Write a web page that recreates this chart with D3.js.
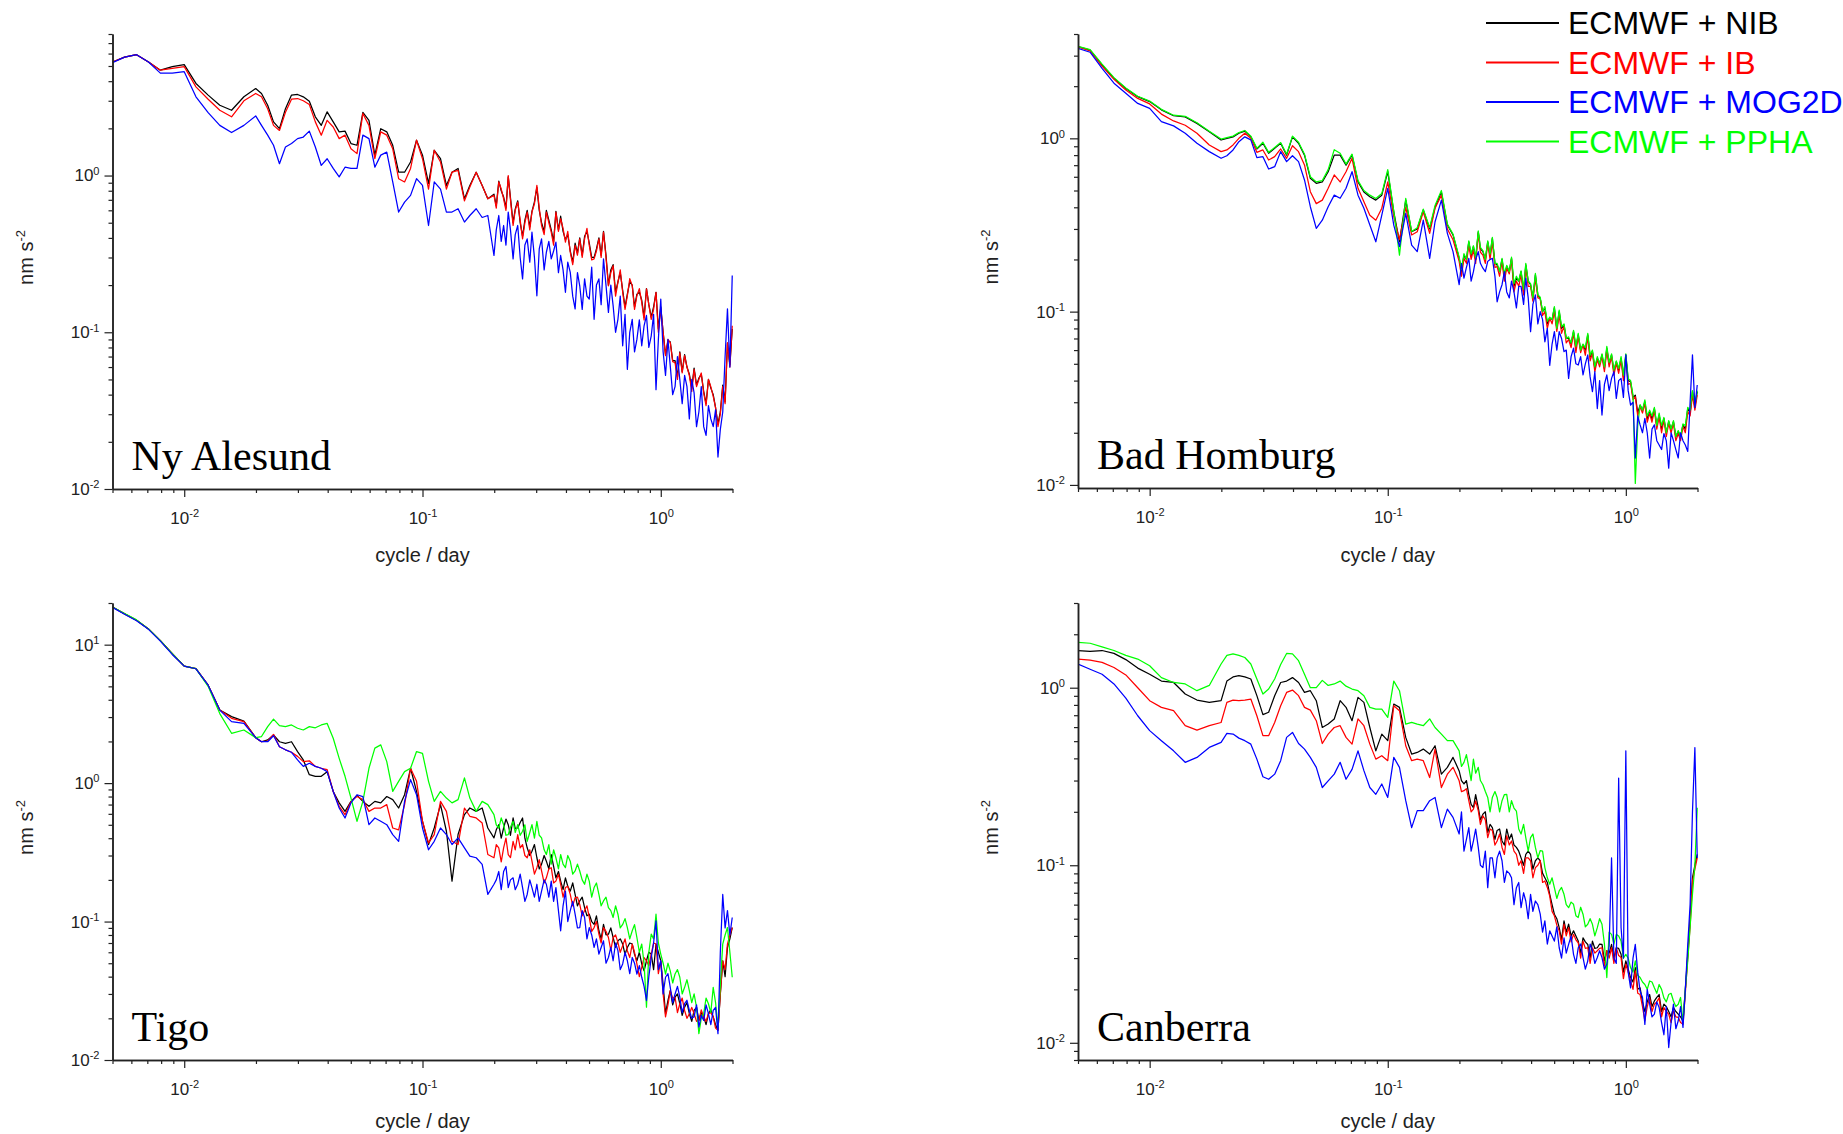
<!DOCTYPE html>
<html><head><meta charset="utf-8">
<script src="https://cdn.jsdelivr.net/npm/d3@7"></script>
<style>body{margin:0;background:#fff}svg{display:block}</style>
</head><body>
<svg id="chart" width="1843" height="1134"></svg>
<script>
// ---------------- DATA ----------------
const freq = [0.005,0.00562,0.00631,0.00708,0.00794,0.00891,0.01,0.0112,0.0126,0.0141,0.0158,0.0178,
0.01995,0.0211,0.0224,0.0237,0.0251,0.0266,0.0282,0.0299,0.0316,0.0335,0.0355,0.0376,0.0398,0.0422,0.0447,0.0473,0.0501,0.0531,0.0562,0.0596,0.0631,0.0668,0.0708,0.075,0.0794,0.0841,0.0891,0.0944,0.1,0.106,0.112,0.119,0.126,0.133,0.141,0.15,0.158,0.168,0.178,0.188,
0.1995,0.204,0.209,0.214,0.219,0.224,0.229,0.234,0.24,0.245,
0.251,0.257,0.263,0.269,0.275,0.282,0.288,0.295,0.302,0.309,
0.316,0.324,0.331,0.339,0.347,0.355,0.363,0.372,0.38,0.389,
0.398,0.407,0.417,0.427,0.437,0.447,0.457,0.468,0.479,0.49,
0.501,0.513,0.525,0.537,0.55,0.562,0.575,0.589,0.603,0.617,
0.631,0.646,0.661,0.676,0.692,0.708,0.724,0.741,0.759,0.776,
0.794,0.813,0.832,0.851,0.871,0.891,0.912,0.933,0.955,0.977,
1.0,1.023,1.047,1.072,1.096,1.122,1.148,1.175,1.202,1.23,
1.259,1.288,1.318,1.349,1.38,1.413,1.445,1.479,1.514,1.549,
1.585,1.622,1.66,1.698,1.738,1.778,1.82,1.862,1.905,1.95,1.995];

const seriesNames = ["ECMWF + NIB","ECMWF + IB","ECMWF + MOG2D","ECMWF + PPHA"];
const stations = ["Ny Alesund","Bad Homburg","Tigo","Canberra"];

// Ny Alesund
const nyNIB = [5.3,5.7,5.9,5.3,4.7,4.95,5.1,3.87,3.26,2.81,2.61,3.18,
3.59,3.34,2.81,2.20,1.99,2.67,3.26,3.29,3.18,2.98,2.37,2.09,2.55,2.20,1.90,1.92,1.60,1.56,2.53,2.25,1.35,1.99,1.90,1.56,1.05,1.05,1.22,1.68,1.35,0.89,1.45,1.28,0.865,1.05,1.11,0.711,0.865,1.05,0.865,0.711,
0.76,0.64,0.92,0.8,0.73,0.62,0.98,0.72,0.5,0.61,
0.69,0.5,0.41,0.52,0.6,0.47,0.59,0.68,0.84,0.6,
0.5,0.44,0.6,0.52,0.45,0.38,0.59,0.45,0.55,0.44,
0.39,0.42,0.33,0.28,0.37,0.32,0.4,0.31,0.41,0.44,
0.37,0.3,0.3,0.34,0.4,0.31,0.44,0.31,0.2,0.25,
0.27,0.18,0.21,0.24,0.185,0.145,0.175,0.21,0.2,0.145,
0.175,0.18,0.16,0.125,0.19,0.15,0.125,0.145,0.18,0.105,
0.145,0.1,0.072,0.088,0.087,0.066,0.066,0.052,0.075,0.056,
0.072,0.06,0.054,0.044,0.059,0.046,0.051,0.054,0.042,0.035,
0.05,0.044,0.04,0.033,0.026,0.031,0.046,0.036,0.085,0.062,0.105];
const nyIB = [5.3,5.7,5.9,5.3,4.7,4.83,4.95,3.68,3.07,2.61,2.37,3.0,
3.34,3.18,2.67,2.09,1.94,2.53,3.07,3.10,3.0,2.84,2.20,1.81,2.25,2.04,1.72,1.81,1.48,1.38,2.49,2.09,1.28,1.90,1.81,1.48,0.955,0.91,1.11,1.68,1.28,0.82,1.45,1.22,0.82,1.05,1.08,0.69,0.845,1.05,0.865,0.711,
0.747,0.62,0.91,0.82,0.711,0.6,1.0,0.7,0.48,0.6,
0.677,0.52,0.394,0.5,0.585,0.45,0.585,0.66,0.865,0.62,
0.48,0.42,0.585,0.5,0.435,0.36,0.585,0.44,0.53,0.46,
0.376,0.44,0.324,0.27,0.358,0.31,0.394,0.3,0.394,0.46,
0.358,0.29,0.294,0.33,0.394,0.3,0.435,0.3,0.198,0.24,
0.266,0.17,0.208,0.25,0.18,0.14,0.171,0.22,0.198,0.14,
0.171,0.19,0.155,0.12,0.189,0.15,0.121,0.14,0.18,0.1,
0.141,0.1,0.071,0.09,0.086,0.065,0.064,0.05,0.074,0.055,
0.071,0.06,0.053,0.042,0.058,0.045,0.05,0.055,0.041,0.034,
0.05,0.045,0.039,0.033,0.025,0.03,0.045,0.035,0.086,0.06,0.11];
const nyMOG2D = [5.25,5.7,5.9,5.3,4.5,4.5,4.6,3.18,2.52,2.09,1.88,2.09,
2.40,2.09,1.81,1.56,1.19,1.52,1.60,1.72,1.76,1.92,1.52,1.16,1.28,1.11,0.98,1.13,1.11,1.11,1.81,1.72,1.13,1.35,1.41,0.91,0.585,0.677,0.747,0.955,0.865,0.48,0.91,0.82,0.585,0.585,0.614,0.505,0.556,0.614,0.54,0.556,
0.309,0.45,0.556,0.38,0.48,0.36,0.585,0.45,0.294,0.42,
0.48,0.3,0.219,0.36,0.394,0.28,0.435,0.3,0.171,0.34,
0.394,0.25,0.324,0.38,0.294,0.33,0.376,0.24,0.309,0.25,
0.18,0.28,0.241,0.17,0.141,0.24,0.198,0.14,0.219,0.17,
0.163,0.26,0.121,0.2,0.219,0.15,0.294,0.2,0.134,0.2,
0.148,0.1,0.121,0.17,0.082,0.13,0.058,0.1,0.121,0.075,
0.09,0.12,0.082,0.11,0.128,0.08,0.095,0.13,0.043,0.09,
0.163,0.075,0.053,0.09,0.061,0.04,0.045,0.07,0.05,0.035,
0.053,0.045,0.028,0.05,0.041,0.025,0.031,0.045,0.025,0.022,
0.034,0.028,0.025,0.032,0.016,0.024,0.031,0.07,0.141,0.06,0.23];

// Bad Homburg
const bhNIB = [3.38,3.23,2.65,2.22,1.94,1.74,1.63,1.46,1.35,1.33,1.22,1.09,
0.978,1.0,1.02,1.07,1.10,1.02,0.868,0.936,0.82,0.875,0.936,0.80,1.02,0.936,0.80,0.588,0.55,0.56,0.642,0.80,0.80,0.70,0.80,0.56,0.49,0.46,0.44,0.47,0.642,0.377,0.253,0.44,0.289,0.30,0.386,0.30,0.40,0.49,0.316,0.277,
0.203,0.17,0.212,0.2,0.253,0.21,0.237,0.2,0.289,0.23,
0.222,0.2,0.253,0.21,0.265,0.19,0.186,0.17,0.20,0.16,
0.182,0.17,0.203,0.14,0.156,0.15,0.17,0.13,0.186,0.15,
0.143,0.12,0.163,0.125,0.119,0.1,0.105,0.085,0.0916,0.09,
0.105,0.08,0.10,0.08,0.0838,0.07,0.0702,0.065,0.0767,0.062,
0.0734,0.06,0.0642,0.06,0.0734,0.055,0.0588,0.047,0.0538,0.05,
0.0563,0.047,0.0615,0.05,0.0563,0.045,0.0514,0.046,0.0538,0.042,
0.0563,0.04,0.0394,0.032,0.033,0.026,0.0289,0.027,0.0302,0.024,
0.0265,0.024,0.0276,0.022,0.0253,0.021,0.0242,0.02,0.0232,0.021,
0.0232,0.019,0.0203,0.019,0.0222,0.021,0.0276,0.026,0.0345,0.028,0.0345];
const bhIB = [3.37,3.20,2.61,2.19,1.90,1.70,1.58,1.38,1.26,1.19,1.07,0.916,
0.838,0.857,0.916,1.0,1.07,1.0,0.83,0.857,0.75,0.784,0.868,0.767,0.907,0.838,0.702,0.492,0.42,0.44,0.515,0.615,0.56,0.642,0.767,0.515,0.43,0.36,0.337,0.395,0.56,0.353,0.26,0.40,0.277,0.289,0.377,0.283,0.395,0.47,0.30,0.26,
0.195,0.16,0.203,0.19,0.242,0.2,0.227,0.19,0.283,0.22,
0.212,0.19,0.248,0.2,0.253,0.18,0.182,0.16,0.195,0.15,
0.178,0.165,0.20,0.13,0.15,0.14,0.163,0.125,0.182,0.14,
0.14,0.115,0.156,0.12,0.119,0.095,0.10,0.08,0.0916,0.085,
0.10,0.077,0.096,0.075,0.082,0.066,0.069,0.062,0.075,0.058,
0.072,0.058,0.0642,0.056,0.072,0.052,0.0576,0.045,0.0527,0.048,
0.055,0.045,0.060,0.048,0.055,0.043,0.0503,0.044,0.0527,0.04,
0.055,0.038,0.0386,0.031,0.0323,0.025,0.0282,0.026,0.0295,0.023,
0.0259,0.023,0.027,0.021,0.0247,0.02,0.0237,0.019,0.0227,0.02,
0.0227,0.018,0.0198,0.018,0.0217,0.02,0.0265,0.025,0.033,0.027,0.033];
const bhMOG2D = [3.31,3.14,2.53,2.08,1.82,1.59,1.49,1.25,1.18,1.07,0.936,0.838,
0.767,0.794,0.857,0.957,1.02,0.98,0.774,0.784,0.665,0.686,0.838,0.734,0.794,0.734,0.575,0.403,0.302,0.337,0.403,0.47,0.451,0.515,0.642,0.47,0.395,0.316,0.253,0.36,0.515,0.316,0.237,0.369,0.242,0.222,0.337,0.203,0.33,0.44,0.283,0.222,
0.143,0.19,0.156,0.18,0.203,0.15,0.17,0.2,0.222,0.19,
0.178,0.17,0.195,0.2,0.203,0.16,0.114,0.13,0.143,0.17,
0.13,0.12,0.15,0.13,0.105,0.14,0.14,0.11,0.156,0.12,
0.0767,0.11,0.125,0.085,0.10,0.09,0.067,0.08,0.049,0.065,
0.0767,0.06,0.0767,0.07,0.0588,0.06,0.0412,0.055,0.0615,0.05,
0.0492,0.055,0.0431,0.05,0.0563,0.042,0.0345,0.045,0.0276,0.04,
0.0253,0.038,0.0431,0.035,0.0412,0.045,0.0316,0.04,0.0412,0.032,
0.0563,0.035,0.0289,0.03,0.0143,0.025,0.0222,0.02,0.0242,0.02,
0.0143,0.021,0.0222,0.018,0.017,0.016,0.0198,0.018,0.0125,0.02,
0.018,0.016,0.0143,0.02,0.018,0.017,0.0156,0.03,0.0563,0.028,0.0377];
const bhPPHA = [3.40,3.25,2.68,2.24,1.95,1.75,1.64,1.47,1.36,1.34,1.23,1.10,
0.99,1.01,1.03,1.08,1.11,1.03,0.875,0.95,0.83,0.885,0.945,0.81,1.03,0.95,0.81,0.6,0.56,0.57,0.66,0.86,0.82,0.71,0.81,0.57,0.5,0.47,0.45,0.48,0.66,0.38,0.212,0.45,0.29,0.305,0.39,0.305,0.41,0.5,0.32,0.28,
0.206,0.175,0.216,0.2,0.256,0.215,0.24,0.205,0.292,0.235,
0.225,0.2,0.256,0.215,0.268,0.19,0.19,0.17,0.203,0.165,
0.185,0.17,0.206,0.145,0.16,0.15,0.172,0.135,0.19,0.15,
0.145,0.12,0.166,0.125,0.121,0.1,0.107,0.088,0.093,0.09,
0.107,0.08,0.102,0.082,0.085,0.07,0.0715,0.066,0.078,0.063,
0.075,0.06,0.065,0.062,0.075,0.056,0.06,0.048,0.055,0.05,
0.057,0.048,0.063,0.051,0.057,0.046,0.052,0.047,0.055,0.043,
0.057,0.041,0.04,0.033,0.0102,0.022,0.029,0.027,0.031,0.025,
0.027,0.025,0.028,0.022,0.026,0.022,0.0245,0.02,0.0235,0.021,
0.0235,0.019,0.0206,0.019,0.0225,0.022,0.028,0.027,0.035,0.029,0.035];

// Tigo
const tgNIB = [18.7,16.7,15.0,13.0,10.7,8.6,7.0,6.72,5.1,3.37,3.02,2.8,
2.13,1.99,2.05,2.23,1.99,1.94,1.99,1.69,1.47,1.15,1.12,1.12,1.21,0.871,0.72,0.625,0.738,0.815,0.738,0.68,0.738,0.72,0.80,0.76,0.661,0.824,1.28,0.871,0.53,0.36,0.474,0.699,0.449,0.196,0.425,0.592,0.661,0.625,0.661,0.474,
0.402,0.46,0.501,0.4,0.474,0.55,0.501,0.42,0.56,0.47,
0.474,0.52,0.56,0.4,0.341,0.3,0.322,0.36,0.289,0.24,
0.26,0.3,0.273,0.24,0.305,0.25,0.207,0.23,0.196,0.17,
0.207,0.18,0.166,0.19,0.157,0.13,0.141,0.15,0.126,0.11,
0.113,0.1,0.0954,0.11,0.0858,0.075,0.0954,0.08,0.0811,0.09,
0.0767,0.065,0.0726,0.075,0.0688,0.058,0.065,0.07,0.0688,0.058,
0.0521,0.06,0.0494,0.044,0.0521,0.06,0.0582,0.045,0.0688,0.06,
0.0521,0.035,0.0216,0.027,0.0317,0.025,0.0284,0.03,0.0255,0.021,
0.0241,0.026,0.0216,0.019,0.0228,0.024,0.0193,0.022,0.0205,0.018,
0.0216,0.023,0.0205,0.018,0.0164,0.03,0.0521,0.04,0.065,0.075,0.0905];
const tgIB = [18.7,16.7,15.0,13.0,10.7,8.6,7.0,6.72,5.1,3.37,2.94,2.78,
2.13,1.99,2.01,2.25,1.83,1.74,1.67,1.56,1.43,1.45,1.32,1.28,1.25,0.871,0.68,0.592,0.738,0.80,0.76,0.625,0.661,0.661,0.699,0.474,0.46,0.699,1.28,1.03,0.53,0.37,0.425,0.738,0.625,0.38,0.36,0.661,0.576,0.56,0.515,0.305,
0.289,0.36,0.341,0.27,0.341,0.4,0.305,0.29,0.38,0.33,
0.425,0.34,0.36,0.3,0.289,0.33,0.273,0.22,0.245,0.28,
0.232,0.19,0.207,0.24,0.245,0.19,0.196,0.22,0.186,0.15,
0.176,0.18,0.157,0.13,0.149,0.15,0.133,0.11,0.12,0.13,
0.107,0.085,0.0905,0.1,0.0811,0.07,0.0905,0.085,0.0767,0.062,
0.0767,0.08,0.0707,0.06,0.067,0.075,0.0616,0.055,0.0688,0.06,
0.0494,0.04,0.0467,0.055,0.0521,0.048,0.0582,0.07,0.0688,0.042,
0.0521,0.03,0.0205,0.025,0.0317,0.028,0.0284,0.022,0.0255,0.028,
0.0228,0.02,0.0216,0.024,0.0216,0.019,0.0193,0.023,0.0205,0.019,
0.0216,0.022,0.0205,0.017,0.0164,0.03,0.0521,0.045,0.0688,0.08,0.0905];
const tgMOG2D = [18.6,16.6,14.9,12.9,10.6,8.5,7.0,6.7,5.1,3.37,2.78,2.70,
2.13,1.99,1.99,2.2,1.83,1.74,1.67,1.47,1.32,1.39,1.32,1.28,1.21,0.871,0.661,0.56,0.72,0.824,0.80,0.501,0.56,0.53,0.501,0.425,0.38,0.738,1.06,0.824,0.474,0.33,0.38,0.474,0.425,0.36,0.402,0.341,0.297,0.289,0.259,0.157,
0.186,0.2,0.23,0.17,0.23,0.25,0.176,0.2,0.207,0.17,
0.186,0.22,0.176,0.14,0.157,0.2,0.176,0.15,0.186,0.14,
0.166,0.2,0.186,0.15,0.196,0.14,0.176,0.12,0.0858,0.13,
0.166,0.1,0.12,0.14,0.113,0.09,0.0905,0.12,0.107,0.075,
0.0905,0.08,0.065,0.075,0.0582,0.065,0.0726,0.05,0.055,0.065,
0.0521,0.07,0.0616,0.045,0.0494,0.06,0.0521,0.042,0.055,0.05,
0.0418,0.048,0.0396,0.034,0.0269,0.04,0.055,0.07,0.101,0.045,
0.0521,0.03,0.0396,0.042,0.0335,0.026,0.030,0.034,0.0284,0.022,
0.0255,0.027,0.0228,0.02,0.0205,0.025,0.0173,0.021,0.0193,0.025,
0.0216,0.018,0.0228,0.024,0.0155,0.06,0.157,0.09,0.12,0.08,0.107];
const tgPPHA = [18.7,16.8,15.1,13.0,10.7,8.6,7.0,6.72,5.0,3.18,2.29,2.42,
2.13,2.17,2.56,2.9,2.60,2.56,2.63,2.49,2.42,2.56,2.51,2.63,2.70,2.11,1.51,1.12,0.78,0.53,0.738,1.28,1.79,1.89,1.43,0.871,1.03,1.21,1.28,1.69,1.64,1.03,0.738,0.871,0.78,0.72,0.76,1.09,0.78,0.625,0.738,0.699,
0.592,0.5,0.474,0.56,0.501,0.42,0.425,0.48,0.53,0.44,
0.501,0.42,0.449,0.5,0.38,0.44,0.501,0.4,0.53,0.42,
0.402,0.33,0.305,0.36,0.26,0.33,0.289,0.24,0.305,0.26,
0.245,0.3,0.273,0.22,0.232,0.26,0.232,0.2,0.186,0.22,
0.196,0.15,0.176,0.19,0.157,0.13,0.141,0.15,0.126,0.12,
0.107,0.13,0.113,0.09,0.0954,0.105,0.0905,0.075,0.0858,0.095,
0.0767,0.06,0.0688,0.05,0.0241,0.06,0.0811,0.075,0.113,0.07,
0.0582,0.05,0.0418,0.05,0.044,0.036,0.0418,0.045,0.0396,0.03,
0.0335,0.038,0.0317,0.026,0.030,0.024,0.0155,0.02,0.0216,0.028,
0.0255,0.022,0.0335,0.026,0.0173,0.035,0.0688,0.08,0.0905,0.06,0.0396];

// Canberra
const cbNIB = [1.62,1.60,1.62,1.56,1.44,1.29,1.19,1.09,1.07,0.921,0.852,0.827,
0.845,1.09,1.15,1.17,1.15,1.12,0.902,0.705,0.727,0.902,1.07,1.09,1.14,1.07,0.941,0.962,0.845,0.597,0.624,0.667,0.845,0.775,0.652,0.882,0.827,0.597,0.441,0.548,0.503,0.809,0.775,0.525,0.423,0.432,0.451,0.423,0.471,0.326,0.356,0.405,
0.34,0.3,0.287,0.3,0.251,0.22,0.211,0.25,0.211,0.18,
0.194,0.2,0.153,0.17,0.163,0.14,0.157,0.16,0.137,0.13,
0.16,0.14,0.15,0.13,0.126,0.12,0.11,0.1,0.115,0.12,
0.115,0.095,0.106,0.11,0.106,0.09,0.085,0.08,0.0686,0.06,
0.053,0.05,0.0445,0.038,0.0486,0.042,0.0466,0.04,0.0427,0.04,
0.0374,0.032,0.039,0.037,0.0358,0.03,0.0374,0.034,0.0343,0.036,
0.0358,0.029,0.033,0.032,0.0358,0.03,0.0343,0.034,0.0315,0.025,
0.0289,0.026,0.0233,0.022,0.0265,0.02,0.0204,0.017,0.015,0.017,
0.0187,0.016,0.0172,0.018,0.0187,0.015,0.0165,0.016,0.015,0.014,
0.0158,0.015,0.0145,0.014,0.0133,0.02,0.0315,0.05,0.085,0.1,0.115];
const cbIB = [1.45,1.43,1.39,1.30,1.18,1.0,0.845,0.775,0.742,0.611,0.577,0.611,
0.637,0.827,0.852,0.845,0.852,0.863,0.695,0.537,0.537,0.637,0.791,0.941,0.97,0.902,0.775,0.748,0.652,0.485,0.548,0.597,0.611,0.525,0.481,0.667,0.611,0.481,0.396,0.414,0.388,0.792,0.742,0.471,0.388,0.396,0.388,0.312,0.451,0.274,0.326,0.356,
0.299,0.26,0.263,0.27,0.231,0.2,0.207,0.23,0.203,0.17,
0.19,0.18,0.143,0.16,0.157,0.13,0.137,0.15,0.126,0.115,
0.147,0.13,0.137,0.12,0.115,0.1,0.106,0.09,0.11,0.11,
0.106,0.085,0.097,0.1,0.106,0.08,0.0816,0.075,0.067,0.055,
0.0519,0.046,0.0427,0.036,0.0466,0.04,0.0445,0.037,0.0408,0.038,
0.0366,0.03,0.0374,0.034,0.0343,0.028,0.0343,0.032,0.033,0.034,
0.0343,0.027,0.033,0.03,0.0343,0.028,0.0343,0.031,0.0302,0.023,
0.0277,0.025,0.0223,0.02,0.0254,0.019,0.0187,0.016,0.0133,0.016,
0.0179,0.015,0.0165,0.017,0.0179,0.014,0.0158,0.015,0.0145,0.013,
0.0151,0.014,0.0139,0.013,0.0127,0.019,0.0302,0.045,0.0816,0.095,0.11];
const cbMOG2D = [1.36,1.27,1.19,1.05,0.874,0.695,0.573,0.503,0.441,0.380,0.405,0.461,
0.492,0.553,0.548,0.52,0.503,0.481,0.396,0.315,0.305,0.326,0.388,0.525,0.56,0.485,0.451,0.405,0.356,0.274,0.299,0.326,0.380,0.305,0.347,0.441,0.341,0.274,0.251,0.287,0.241,0.405,0.356,0.231,0.163,0.203,0.203,0.231,0.241,0.163,0.207,0.186,
0.15,0.2,0.12,0.14,0.163,0.12,0.137,0.16,0.126,0.1,
0.097,0.12,0.0748,0.11,0.11,0.085,0.11,0.12,0.106,0.08,
0.093,0.09,0.085,0.06,0.0748,0.08,0.0577,0.07,0.0629,0.05,
0.0686,0.055,0.0629,0.06,0.053,0.042,0.0486,0.036,0.0427,0.04,
0.0374,0.045,0.0343,0.03,0.039,0.032,0.0358,0.04,0.0315,0.028,
0.0343,0.036,0.0302,0.026,0.0289,0.036,0.033,0.028,0.0302,0.033,
0.0302,0.026,0.0277,0.035,0.11,0.03,0.028,0.31,0.0445,0.03,
0.441,0.025,0.0204,0.03,0.0358,0.025,0.0195,0.018,0.0127,0.02,
0.0165,0.014,0.0145,0.017,0.0158,0.013,0.0111,0.016,0.0094,0.013,
0.0165,0.012,0.0133,0.016,0.0122,0.02,0.0358,0.06,0.2,0.46,0.11];
const cbPPHA = [1.80,1.78,1.70,1.62,1.52,1.45,1.33,1.14,1.07,1.05,0.962,1.03,
1.36,1.52,1.55,1.52,1.48,1.36,1.12,0.921,0.983,1.12,1.35,1.56,1.55,1.42,1.19,1.0,1.0,1.10,1.03,1.05,1.09,1.02,0.983,0.962,0.902,0.775,0.758,0.758,0.68,1.09,0.962,0.624,0.638,0.624,0.611,0.667,0.597,0.548,0.503,0.503,
0.441,0.36,0.38,0.42,0.356,0.3,0.396,0.33,0.356,0.3,
0.284,0.26,0.241,0.2,0.241,0.26,0.241,0.2,0.231,0.25,
0.251,0.2,0.231,0.21,0.202,0.16,0.15,0.17,0.143,0.12,
0.143,0.15,0.126,0.11,0.121,0.12,0.097,0.085,0.0782,0.085,
0.0748,0.065,0.0717,0.075,0.0686,0.06,0.0577,0.062,0.0603,0.052,
0.0508,0.058,0.053,0.045,0.0465,0.05,0.0465,0.04,0.0445,0.05,
0.0465,0.036,0.0233,0.042,0.0408,0.036,0.0408,0.04,0.0374,0.03,
0.0315,0.03,0.0265,0.025,0.0289,0.024,0.0233,0.022,0.0213,0.02,
0.0223,0.022,0.0204,0.019,0.0213,0.02,0.0179,0.017,0.0187,0.019,
0.0172,0.016,0.0165,0.018,0.013,0.02,0.0289,0.045,0.0686,0.1,0.211];

// tick labels
const xTickValues = [0.01, 0.1, 1];
const xTickExponents = ["-2", "-1", "0"];
const yTickValuesA = [0.01, 0.1, 1];
const yTickExponentsA = ["-2", "-1", "0"];
const yTickValuesB = [0.01, 0.1, 1, 10];
const yTickExponentsB = ["-2", "-1", "0", "1"];
const xTitle = "cycle / day";

// ---------------- LAYOUT / STYLE ----------------
const colors = ["#000000", "#ff0000", "#0000ff", "#00ff00"]; // NIB, IB, MOG2D, PPHA
const drawOrder = [0, 1, 3, 2];
const xDomain = [0.005, 2];
const panels = [
  {name: stations[0], x0: 112.5, x1: 732.5, yTop: 34, yBot: 489, titleOff: 73, yDomain: [0.01, 8], yt: yTickValuesA, ye: yTickExponentsA, data: [nyNIB, nyIB, nyMOG2D, null]},
  {name: stations[1], x0: 1078, x1: 1697.5, yTop: 34, yBot: 488, titleOff: 74, yDomain: [0.0096, 4], yt: yTickValuesA, ye: yTickExponentsA, data: [bhNIB, bhIB, bhMOG2D, bhPPHA]},
  {name: stations[2], x0: 112.5, x1: 732.5, yTop: 603, yBot: 1060, titleOff: 68, yDomain: [0.01, 20], yt: yTickValuesB, ye: yTickExponentsB, data: [tgNIB, tgIB, tgMOG2D, tgPPHA]},
  {name: stations[3], x0: 1078, x1: 1697.5, yTop: 603, yBot: 1060, titleOff: 68, yDomain: [0.008, 3], yt: yTickValuesA, ye: yTickExponentsA, data: [cbNIB, cbIB, cbMOG2D, cbPPHA]}
];

const svg = d3.select("#chart");
svg.append("rect").attr("width", 1843).attr("height", 1134).attr("fill", "#fff");

function minorTicks(dom) {
  const out = [];
  const d0 = Math.floor(Math.log10(dom[0])), d1 = Math.ceil(Math.log10(dom[1]));
  for (let d = d0; d <= d1; d++) for (let k = 2; k <= 9; k++) {
    const v = k * Math.pow(10, d);
    if (v >= dom[0] * 0.999 && v <= dom[1] * 1.001) out.push(v);
  }
  return out;
}
function styleAxis(g) {
  g.selectAll("path.domain").attr("stroke", "#222").attr("stroke-width", 1.5);
  g.selectAll(".tick line").attr("stroke", "#222").attr("stroke-width", 1.2);
  g.selectAll(".tick text").attr("fill", "#222").attr("font-family", "Liberation Sans, Arial, sans-serif").attr("font-size", 17);
}
function supLabels(g, exps) {
  g.selectAll(".tick text").each(function(d, i) {
    const t = d3.select(this);
    t.text(null);
    t.append("tspan").text("10");
    t.append("tspan").attr("dy", "-0.6em").attr("font-size", "0.65em").text(exps[i]);
  });
}

panels.forEach((p, pi) => {
  const g = svg.append("g");
  const x = d3.scaleLog().domain(xDomain).range([p.x0, p.x1]);
  const y = d3.scaleLog().domain(p.yDomain).range([p.yBot, p.yTop]);

  const clipId = "clip" + pi;
  svg.append("clipPath").attr("id", clipId).append("rect")
    .attr("x", p.x0).attr("y", p.yTop - 2).attr("width", p.x1 - p.x0 + 2).attr("height", p.yBot - p.yTop + 2);

  const line = d3.line().x((d, i) => x(freq[i])).y(d => y(d));
  const lg = g.append("g").attr("clip-path", `url(#${clipId})`);
  drawOrder.forEach(si => {
    const s = p.data[si];
    if (!s) return;
    lg.append("path").datum(s).attr("d", line)
      .attr("fill", "none").attr("stroke", colors[si]).attr("stroke-width", 1.25)
      .attr("stroke-linejoin", "round");
  });

  g.append("g").attr("transform", `translate(0,${p.yBot})`)
    .call(d3.axisBottom(x).tickValues(minorTicks(xDomain)).tickSize(4).tickSizeOuter(0).tickFormat(""))
    .call(styleAxis);
  g.append("g").attr("transform", `translate(${p.x0},0)`)
    .call(d3.axisLeft(y).tickValues(minorTicks(p.yDomain)).tickSize(4).tickSizeOuter(0).tickFormat(""))
    .call(styleAxis);
  const xa = g.append("g").attr("transform", `translate(0,${p.yBot})`)
    .call(d3.axisBottom(x).tickValues(xTickValues).tickSize(8).tickPadding(15).tickSizeOuter(0))
    .call(styleAxis);
  supLabels(xa, xTickExponents);
  const ya = g.append("g").attr("transform", `translate(${p.x0},0)`)
    .call(d3.axisLeft(y).tickValues(p.yt).tickSize(8).tickPadding(5).tickSizeOuter(0))
    .call(styleAxis);
  supLabels(ya, p.ye);

  g.append("text").attr("x", (p.x0 + p.x1) / 2).attr("y", p.yBot + p.titleOff)
    .attr("text-anchor", "middle").attr("font-family", "Liberation Sans, Arial, sans-serif")
    .attr("font-size", 20).attr("fill", "#222").text(xTitle);
  const yl = g.append("text")
    .attr("transform", `translate(${p.x0 - 80},${(p.yTop + p.yBot) / 2 - 4}) rotate(-90)`)
    .attr("text-anchor", "middle").attr("font-family", "Liberation Sans, Arial, sans-serif")
    .attr("font-size", 20).attr("fill", "#222");
  yl.append("tspan").text("nm s");
  yl.append("tspan").attr("dy", "-0.6em").attr("font-size", "0.65em").text("-2");

  g.append("text").attr("x", p.x0 + 19).attr("y", p.yBot - 19)
    .attr("font-family", "Liberation Serif, Times New Roman, serif").attr("font-size", 42)
    .attr("fill", "#000").text(p.name);
});

// legend
const lgd = svg.append("g");
[0, 1, 2, 3].forEach((si, r) => {
  const yy = 23 + r * 39.5;
  lgd.append("line").attr("x1", 1486).attr("x2", 1559).attr("y1", yy).attr("y2", yy)
    .attr("stroke", colors[si]).attr("stroke-width", 2);
  lgd.append("text").attr("x", 1568).attr("y", yy + 11)
    .attr("font-family", "Liberation Sans, Arial, sans-serif").attr("font-size", 32)
    .attr("fill", colors[si]).text(seriesNames[si]);
});
</script>
</body></html>
